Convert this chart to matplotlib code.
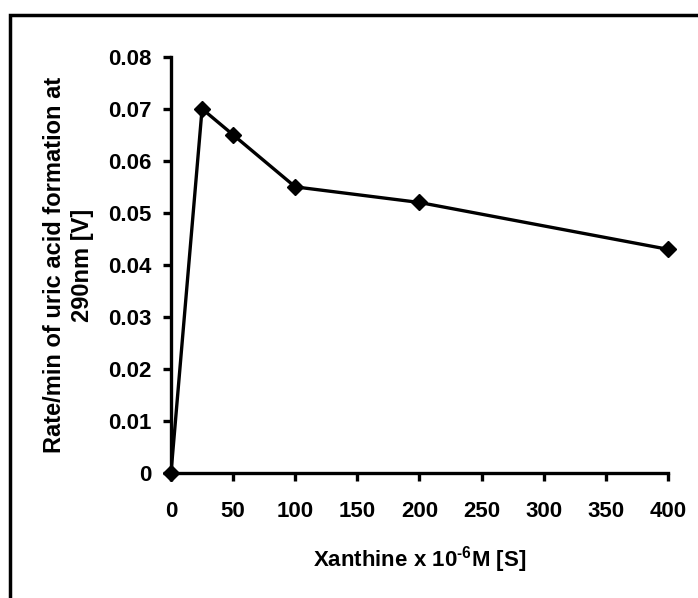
import matplotlib.pyplot as plt
from matplotlib.patches import Rectangle

xanthine = [0, 25, 50, 100, 200, 400]
rate = [0.0, 0.070, 0.065, 0.055, 0.052, 0.043]
x_ticks = [0, 50, 100, 150, 200, 250, 300, 350, 400]
y_ticks = [0, 0.01, 0.02, 0.03, 0.04, 0.05, 0.06, 0.07, 0.08]

plt.rcParams['font.family'] = ['Liberation Sans', 'DejaVu Sans']
plt.rcParams['font.weight'] = 'bold'
plt.rcParams['mathtext.fontset'] = 'custom'
plt.rcParams['mathtext.bf'] = 'Liberation Sans:bold'

fig = plt.figure(figsize=(6.98, 5.98), dpi=100)
ax = fig.add_axes([0.245, 0.209, 0.712, 0.696])

ax.plot(xanthine, rate, color='black', lw=2.4, marker='D', ms=8, clip_on=False)

ax.set_xlim(0, 400)
ax.set_ylim(0, 0.08)
ax.set_xticks(x_ticks)
ax.set_yticks(y_ticks)
ax.set_yticklabels(['0'] + [f'{v:.2f}' for v in y_ticks[1:]])
ax.tick_params(direction='out', length=6, width=2.4, labelsize=16)
ax.tick_params(axis='x', pad=14)
ax.tick_params(axis='y', pad=8)
for s in ['top', 'right']:
    ax.spines[s].set_visible(False)
for s in ['left', 'bottom']:
    ax.spines[s].set_linewidth(2.4)

ax.set_xlabel('Xanthine x 10$^{\\mathbf{\u20106}}$M [S]', fontsize=16, fontweight='bold', labelpad=16)
ax.set_ylabel('Rate/min of uric acid formation at\n290nm [V]', fontsize=17,
              fontweight='bold', labelpad=10, linespacing=1.3)

# outer frame
fig.patches.append(Rectangle((10 / 698, -0.1), 1.1, 1 - 15 / 598 + 0.1,
                             transform=fig.transFigure, fill=False,
                             edgecolor='black', lw=2.5))

fig.savefig('out.png', dpi=100)
